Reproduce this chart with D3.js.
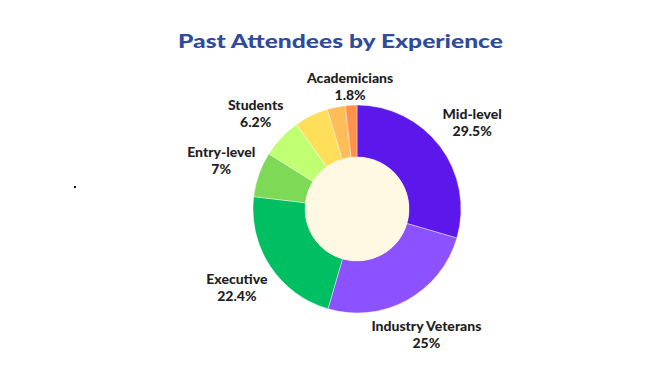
<!DOCTYPE html>
<html><head><meta charset="utf-8">
<script src="https://cdn.jsdelivr.net/npm/d3@7"></script>
<style>body{margin:0;background:#fff}svg{display:block}</style>
</head><body>
<svg id="c" width="664" height="370"></svg>
<script>
// ---- data ----
const categories = ["Mid-level","Industry Veterans","Executive","Entry-level","Students","","","Academicians"];
const values     = [29.5, 25, 22.4, 7, 6.2, 5.3, 2.8, 1.8];
const valueLabels= ["29.5%","25%","22.4%","7%","6.2%","","","1.8%"];
const colors     = ["#5c17eb","#8c52ff","#00bf63","#7ed957","#c1ff72","#ffde59","#ffbd59","#ff914d"];
const title = "Past Attendees by Experience";

// ---- layout ----
const W=664,H=370, cx=357, cy=209, rOuter=104, rInner=52;
const labelR = {"Students":139,"Academicians":122};
const svg=d3.select("#c");

svg.append("text").attr("x",340.5).attr("y",48).attr("text-anchor","middle")
  .attr("font-family","Lato, 'DejaVu Sans', sans-serif").attr("font-weight",900)
  .attr("font-size",19.5).attr("fill","#2e4b9c")
  .attr("textLength",325).attr("lengthAdjust","spacingAndGlyphs").text(title);

const data = categories.map((c,i)=>({name:c,value:values[i],label:valueLabels[i],color:colors[i]}));
const pie=d3.pie().value(d=>d.value).sort(null);
const arcs=pie(data);
const arc=d3.arc().innerRadius(rInner).outerRadius(rOuter);
const g=svg.append("g").attr("transform",`translate(${cx},${cy})`);
g.selectAll("path.s").data(arcs).join("path").attr("class","s")
  .attr("d",arc).attr("fill",d=>d.data.color).attr("stroke","#ffffff").attr("stroke-width",0.4);
g.append("circle").attr("r",rInner).attr("fill","#fff8e3");

const lab=g.selectAll("g.l").data(arcs.filter(d=>d.data.name)).join("g").attr("class","l")
  .attr("transform",d=>{
    const r=labelR[d.data.name]||144;
    const a=d3.arc().innerRadius(r).outerRadius(r);
    const [x,y]=a.centroid(d);
    return `translate(${x},${y})`;
  })
  .attr("font-family","Lato, 'DejaVu Sans', sans-serif").attr("font-weight",900)
  .attr("font-size",14).attr("fill","#1f1f1f").attr("text-anchor","middle");
lab.append("text").attr("y",-4).text(d=>d.data.name);
lab.append("text").attr("y",13).text(d=>d.data.label);

// stray dot artifact in the reference
svg.append("rect").attr("x",74).attr("y",186).attr("width",2).attr("height",2).attr("fill","#111");
</script>
</body></html>
